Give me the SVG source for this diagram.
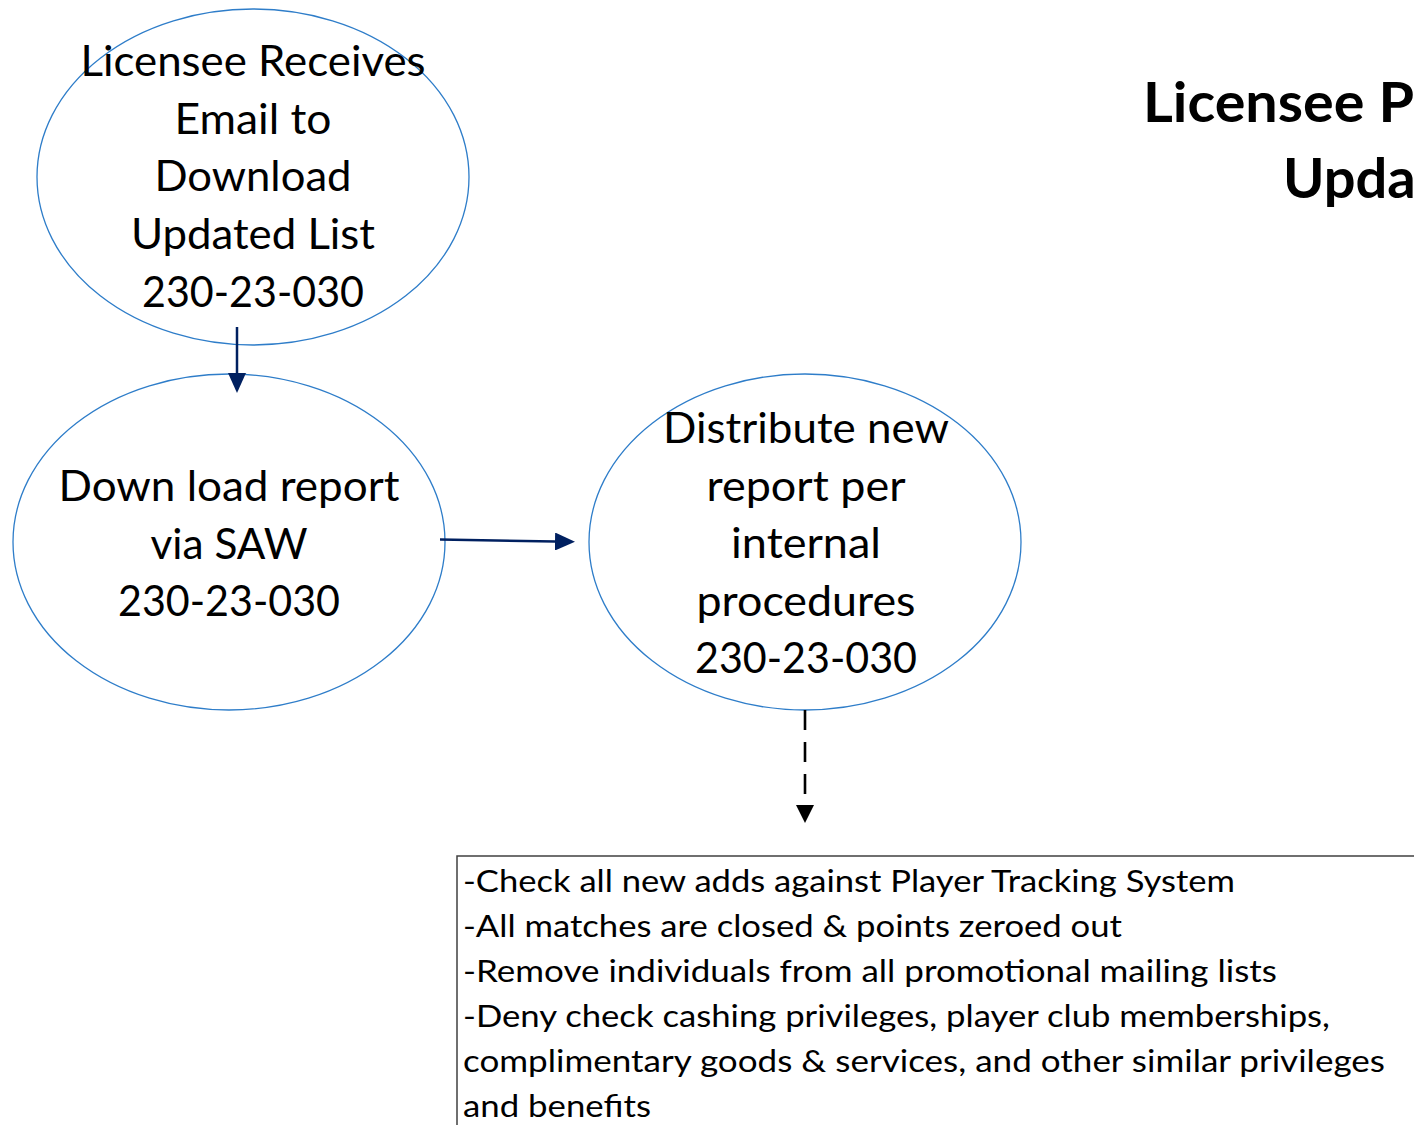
<svg xmlns="http://www.w3.org/2000/svg" width="1414" height="1125" viewBox="0 0 1414 1125">
<style>
.node ellipse{fill:#fff;stroke:#2E7DC9;stroke-width:1.3}
.t{font-family:Lato,"Open Sans","Liberation Sans",sans-serif;font-size:42px;fill:#000;text-anchor:middle}
.title{font-family:Lato,"Open Sans","Liberation Sans",sans-serif;font-size:56px;font-weight:bold;fill:#000}
.bt{font-family:Lato,"Open Sans","Liberation Sans",sans-serif;font-size:30px;fill:#000}
.nav{stroke:#002060;stroke-width:2.5;fill:none}
.dash{stroke:#000;stroke-width:2.6;stroke-dasharray:20 12;fill:none}
</style>
<defs>
<marker id="hn" viewBox="0 0 20 18" refX="0" refY="9" markerWidth="20" markerHeight="18" markerUnits="userSpaceOnUse" orient="auto"><path d="M0,0 L20,9 L0,18 z" fill="#002060"/></marker>
<marker id="hk" viewBox="0 0 18 18" refX="0" refY="9" markerWidth="18" markerHeight="18" markerUnits="userSpaceOnUse" orient="auto"><path d="M0,0 L18,9 L0,18 z" fill="#000"/></marker>
</defs>
<rect width="1414" height="1125" fill="#fff"/>
<g id="title">
<text class="title" x="1143" y="122" textLength="271" lengthAdjust="spacingAndGlyphs">Licensee P</text>
<text class="title" x="1283" y="198">Upda</text>
</g>
<g id="n1" class="node">
<ellipse cx="253" cy="177" rx="216" ry="168"/>
<text class="t" x="253" y="76" textLength="345" lengthAdjust="spacingAndGlyphs">Licensee Receives</text>
<text class="t" x="253" y="134" textLength="157" lengthAdjust="spacingAndGlyphs">Email to</text>
<text class="t" x="253" y="191" textLength="197" lengthAdjust="spacingAndGlyphs">Download</text>
<text class="t" x="253" y="249" textLength="244" lengthAdjust="spacingAndGlyphs">Updated List</text>
<text class="t" x="253" y="307" textLength="222" lengthAdjust="spacingAndGlyphs">230-23-030</text>
</g>
<g id="n2" class="node">
<ellipse cx="229" cy="542" rx="216" ry="168"/>
<text class="t" x="229" y="501" textLength="341" lengthAdjust="spacingAndGlyphs">Down load report</text>
<text class="t" x="229" y="559" textLength="157" lengthAdjust="spacingAndGlyphs">via SAW</text>
<text class="t" x="229" y="616" textLength="222" lengthAdjust="spacingAndGlyphs">230-23-030</text>
</g>
<g id="n3" class="node">
<ellipse cx="805" cy="542" rx="216" ry="168"/>
<text class="t" x="806" y="443" textLength="286" lengthAdjust="spacingAndGlyphs">Distribute new</text>
<text class="t" x="806" y="501" textLength="199" lengthAdjust="spacingAndGlyphs">report per</text>
<text class="t" x="806" y="558" textLength="150" lengthAdjust="spacingAndGlyphs">internal</text>
<text class="t" x="806" y="616" textLength="219" lengthAdjust="spacingAndGlyphs">procedures</text>
<text class="t" x="806" y="673" textLength="222" lengthAdjust="spacingAndGlyphs">230-23-030</text>
</g>
<g id="n4">
<rect x="457" y="856" width="1000" height="300" fill="#fff" stroke="#404040" stroke-width="1.5"/>
<text class="bt" x="463" y="892" textLength="772" lengthAdjust="spacingAndGlyphs">-Check all new adds against Player Tracking System</text>
<text class="bt" x="463" y="937" textLength="659" lengthAdjust="spacingAndGlyphs">-All matches are closed &amp; points zeroed out</text>
<text class="bt" x="463" y="982" textLength="814" lengthAdjust="spacingAndGlyphs">-Remove individuals from all promotional mailing lists</text>
<text class="bt" x="463" y="1027" textLength="867" lengthAdjust="spacingAndGlyphs">-Deny check cashing privileges, player club memberships,</text>
<text class="bt" x="463" y="1072" textLength="922" lengthAdjust="spacingAndGlyphs">complimentary goods &amp; services, and other similar privileges</text>
<text class="bt" x="463" y="1117" textLength="188" lengthAdjust="spacingAndGlyphs">and benefits</text>
</g>
<g id="connectors">
<line class="nav" x1="237" y1="327" x2="237" y2="373" marker-end="url(#hn)"/>
<line class="nav" x1="440" y1="539.5" x2="555" y2="541.5" marker-end="url(#hn)"/>
<line class="dash" x1="805" y1="710" x2="805" y2="805" marker-end="url(#hk)"/>
</g>
</svg>
